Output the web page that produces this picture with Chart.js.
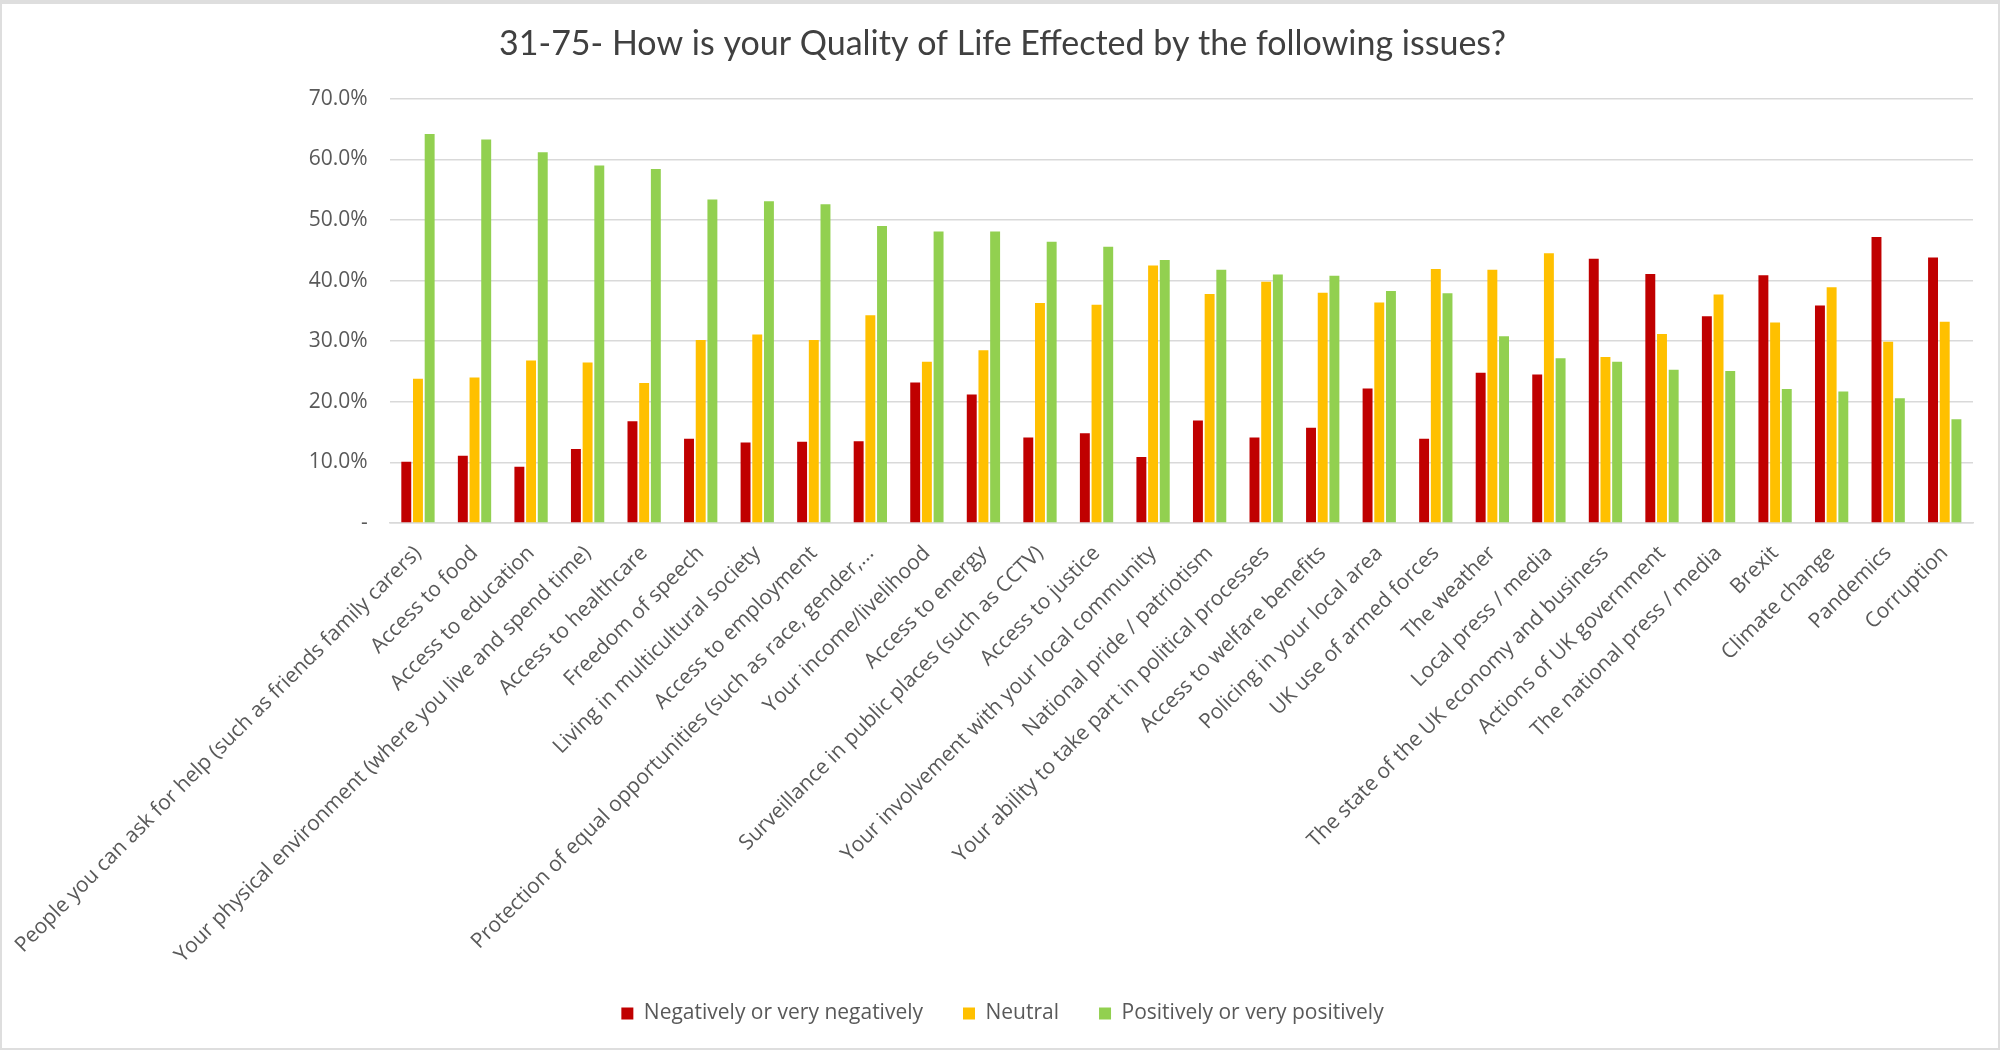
<!DOCTYPE html>
<html>
<head>
<meta charset="utf-8">
<script src="https://cdn.jsdelivr.net/npm/chart.js@4"></script>
<style>
  html, body { margin: 0; padding: 0; background: #ffffff; }
  #wrap {
    width: 2000px; height: 1050px; box-sizing: border-box;
    border: 2px solid #dedede; border-top-width: 4px;
    background: #ffffff;
  }
  #wrap canvas { display: block; }
</style>
</head>
<body>
<div id="wrap"><canvas id="grafico"></canvas></div>
<script>
// categorias (eixo x)
const categorias = [
  "People you can ask for help (such as friends family carers)",
  "Access to food",
  "Access to education",
  "Your physical environment (where you live and spend time)",
  "Access to healthcare",
  "Freedom of speech",
  "Living in multicultural society",
  "Access to employment",
  "Protection of equal opportunities (such as race, gender,...",
  "Your income/livelihood",
  "Access to energy",
  "Surveillance in public places (such as CCTV)",
  "Access to justice",
  "Your involvement with your local community",
  "National pride / patriotism",
  "Your ability to take part in political processes",
  "Access to welfare benefits",
  "Policing in your local area",
  "UK use of armed forces",
  "The weather",
  "Local press / media",
  "The state of the UK economy and business",
  "Actions of UK government",
  "The national press / media",
  "Brexit",
  "Climate change",
  "Pandemics",
  "Corruption"
];

// valores em %
const negativo = [10.1, 11.1, 9.3, 12.2, 16.8, 13.9, 13.3, 13.4, 13.5, 23.2, 21.2, 14.1, 14.8, 10.9,
                  16.9, 14.1, 15.7, 22.2, 13.9, 24.8, 24.5, 43.6, 41.1, 34.1, 40.9, 35.9, 47.2, 43.8];
const neutro   = [23.8, 24.0, 26.8, 26.5, 23.1, 30.2, 31.1, 30.2, 34.3, 26.6, 28.5, 36.3, 36.0, 42.5,
                  37.8, 39.8, 38.0, 36.4, 41.9, 41.8, 44.5, 27.4, 31.2, 37.7, 33.1, 38.9, 29.9, 33.2];
const positivo = [64.2, 63.3, 61.2, 59.0, 58.4, 53.4, 53.1, 52.6, 49.0, 48.1, 48.1, 46.4, 45.6, 43.4,
                  41.8, 41.0, 40.8, 38.3, 37.9, 30.8, 27.2, 26.6, 25.3, 25.1, 22.1, 21.7, 20.6, 17.1];

const series = ["Negatively or very negatively", "Neutral", "Positively or very positively"];
const cores = ["#C00000", "#FFC000", "#92D050"];

const corTexto = "#595959";
const corGrade = "#d9d9d9";

function criaGrafico() {
  const canvas = document.getElementById("grafico");
  canvas.width = 1996;
  canvas.height = 1044;

  new Chart(canvas, {
    type: 'bar',
    data: {
      labels: categorias,
      datasets: [negativo, neutro, positivo].map((dados, i) => ({
        label: series[i],
        data: dados,
        backgroundColor: cores[i],
        categoryPercentage: 0.62,
        barPercentage: 0.85
      }))
    },
    options: {
      responsive: false,
      animation: false,
      // padding esquerdo empurra título e legenda um pouco para a direita
      layout: { padding: { left: 30, right: 25, top: 0, bottom: 14 } },
      plugins: {
        title: {
          display: true,
          text: "31-75- How is your Quality of Life Effected by the following issues?",
          color: "#404040",
          font: { family: "Lato", size: 34, weight: "normal" },
          padding: { top: 20, bottom: 34 }
        },
        legend: {
          position: 'bottom',
          labels: {
            color: corTexto,
            font: { family: "Open Sans", size: 21 },
            boxWidth: 12,
            boxHeight: 12,
            padding: 40
          }
        },
        tooltip: { enabled: false }
      },
      scales: {
        x: {
          grid: { display: false },
          border: { display: true, color: corGrade, width: 1.5 },
          ticks: {
            color: corTexto,
            font: { family: "Open Sans", size: 21 },
            autoSkip: false,
            maxRotation: 45,
            minRotation: 45,
            padding: 10
          },
          afterFit: (scale) => { scale.height = 440; }
        },
        y: {
          min: 0,
          max: 70,
          grid: { color: corGrade, lineWidth: 1.5, drawTicks: false },
          border: { display: false },
          ticks: {
            stepSize: 10,
            color: corTexto,
            font: { family: "Open Sans", size: 21 },
            padding: 22,
            callback: (v) => v === 0 ? "-" : v.toFixed(1) + "%"
          },
          afterFit: (scale) => { scale.width = 357; }
        }
      }
    }
  });
}

criaGrafico();
</script>
</body>
</html>
